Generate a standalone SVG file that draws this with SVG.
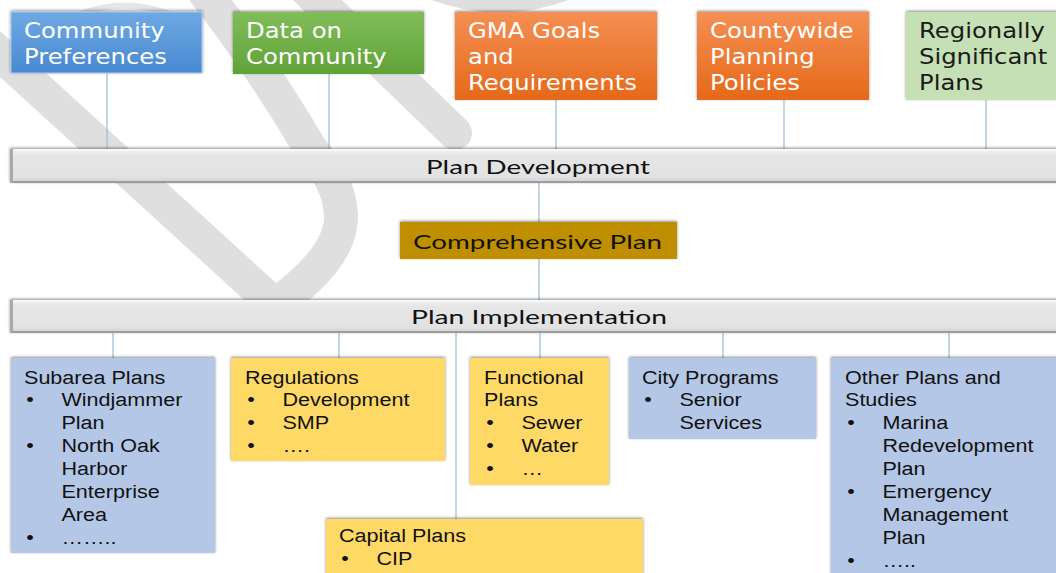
<svg xmlns="http://www.w3.org/2000/svg" width="1056" height="573" viewBox="0 0 1056 573">
  <defs>
    <linearGradient id="gBlue" x1="0" y1="0" x2="0" y2="1">
      <stop offset="0" stop-color="#6fa9e4"/>
      <stop offset="1" stop-color="#4889d1"/>
    </linearGradient>
    <linearGradient id="gGreen" x1="0" y1="0" x2="0" y2="1">
      <stop offset="0" stop-color="#80bd5a"/>
      <stop offset="1" stop-color="#60a338"/>
    </linearGradient>
    <linearGradient id="gOrange" x1="0" y1="0" x2="0" y2="1">
      <stop offset="0" stop-color="#f58f53"/>
      <stop offset="1" stop-color="#e5691a"/>
    </linearGradient>
    <linearGradient id="gBar" x1="0" y1="0" x2="0" y2="1">
      <stop offset="0" stop-color="#f4f4f4"/>
      <stop offset="0.18" stop-color="#e6e6e6"/>
      <stop offset="0.82" stop-color="#e2e2e2"/>
      <stop offset="1" stop-color="#cfcfcf"/>
    </linearGradient>
    <filter id="shadow" x="-10%" y="-30%" width="120%" height="160%">
      <feDropShadow dx="0" dy="-1" stdDeviation="1.6" flood-color="#000" flood-opacity="0.45"/>
    </filter>
  </defs>
  <style>
    .wm { fill: none; stroke: #dfdfdf; stroke-width: 34; stroke-linejoin: round; }
    .link { stroke: #9bb9d9; stroke-width: 1.2; fill: none; }
    .head { font-family: "DejaVu Sans", Verdana, sans-serif; font-size: 21.5px; fill: #ffffff; }
    .head.dark { fill: #1a1a1a; }
    .bar-label { font-family: Lato, "Liberation Sans", sans-serif; font-size: 20px; fill: #111111; }
    .item { font-family: "Liberation Sans", Arial, sans-serif; font-size: 19px; fill: #111111; }
    .bar-fill { fill: url(#gBar); }
    .bar-top { stroke: #fafafa; stroke-width: 1.5; }
    .bar-bottom { stroke: #9c9c9c; stroke-width: 2; }
    .bar-side { stroke: #a9a9a9; stroke-width: 3; }
  </style>

  <rect width="1056" height="573" fill="#ffffff"/>

  <!-- light grey background marks -->
  <g id="watermark">
    <path class="wm" d="M -70,-10 L 275,305 C 310,280 342,250 341,215 C 340,190 328,170 310,148 Q 255,55 195,-20"/>
    <path class="wm" d="M 305,-12 L 455,133" stroke-linecap="round"/>
    <path class="wm" d="M 425,-16 Q 500,16 575,-16" style="stroke-width:25"/>
    <path d="M 78,15 Q 125,-4 172,15" fill="none" stroke="#e6e6e6" stroke-width="6"/>
  </g>

  <!-- connectors -->
  <g id="connectors">
    <line class="link" x1="107" y1="73" x2="107" y2="149"/>
    <line class="link" x1="329" y1="74" x2="329" y2="149"/>
    <line class="link" x1="556" y1="100" x2="556" y2="149"/>
    <line class="link" x1="784" y1="100" x2="784" y2="149"/>
    <line class="link" x1="986" y1="100" x2="986" y2="149"/>
    <line class="link" x1="539" y1="183" x2="539" y2="222"/>
    <line class="link" x1="539" y1="259" x2="539" y2="300"/>
    <line class="link" x1="113" y1="333" x2="113" y2="358"/>
    <line class="link" x1="339" y1="333" x2="339" y2="358"/>
    <line class="link" x1="456" y1="333" x2="456" y2="519"/>
    <line class="link" x1="540" y1="333" x2="540" y2="358"/>
    <line class="link" x1="723" y1="333" x2="723" y2="358"/>
    <line class="link" x1="949" y1="333" x2="949" y2="358"/>
  </g>

  <!-- input boxes -->
  <g id="community-preferences">
    <rect x="11" y="12" width="191" height="61" fill="url(#gBlue)" stroke="#a8c8ec" stroke-width="1" filter="url(#shadow)"/>
    <text class="head" transform="translate(24 38) scale(1.13 1)"><tspan x="0" y="0">Community</tspan><tspan x="0" y="26">Preferences</tspan></text>
  </g>
  <g id="data-on-community">
    <rect x="233" y="12" width="191" height="62" fill="url(#gGreen)" filter="url(#shadow)"/>
    <text class="head" transform="translate(246 38) scale(1.13 1)"><tspan x="0" y="0">Data on</tspan><tspan x="0" y="26">Community</tspan></text>
  </g>
  <g id="gma-goals">
    <rect x="455" y="12" width="202" height="88" fill="url(#gOrange)" filter="url(#shadow)"/>
    <text class="head" transform="translate(468 38) scale(1.13 1)"><tspan x="0" y="0">GMA Goals</tspan><tspan x="0" y="26">and</tspan><tspan x="0" y="52">Requirements</tspan></text>
  </g>
  <g id="countywide-policies">
    <rect x="697" y="12" width="172" height="88" fill="url(#gOrange)" filter="url(#shadow)"/>
    <text class="head" transform="translate(710 38) scale(1.13 1)"><tspan x="0" y="0">Countywide</tspan><tspan x="0" y="26">Planning</tspan><tspan x="0" y="52">Policies</tspan></text>
  </g>
  <g id="regional-plans">
    <rect x="906" y="12" width="156" height="88" fill="#c5e0b4" filter="url(#shadow)"/>
    <text class="head dark" transform="translate(919 38) scale(1.13 1)"><tspan x="0" y="0">Regionally</tspan><tspan x="0" y="26">Significant</tspan><tspan x="0" y="52">Plans</tspan></text>
  </g>

  <!-- plan development bar -->
  <g id="plan-development">
    <rect class="bar-fill" x="10" y="149" width="1052" height="34" filter="url(#shadow)"/>
    <line class="bar-top" x1="12" y1="150" x2="1056" y2="150"/>
    <line class="bar-bottom" x1="10" y1="182" x2="1056" y2="182"/>
    <line class="bar-side" x1="11.5" y1="149" x2="11.5" y2="183"/>
    <text class="bar-label" x="426" y="173.5" textLength="224" lengthAdjust="spacingAndGlyphs">Plan Development</text>
  </g>

  <!-- comprehensive plan -->
  <g id="comprehensive-plan">
    <rect x="400" y="222" width="277" height="37" fill="#bf8f00" filter="url(#shadow)"/>
    <text class="bar-label" x="413" y="249" textLength="249" lengthAdjust="spacingAndGlyphs">Comprehensive Plan</text>
  </g>

  <!-- plan implementation bar -->
  <g id="plan-implementation">
    <rect class="bar-fill" x="10" y="300" width="1052" height="33" filter="url(#shadow)"/>
    <line class="bar-top" x1="12" y1="301" x2="1056" y2="301"/>
    <line class="bar-bottom" x1="10" y1="332" x2="1056" y2="332"/>
    <line class="bar-side" x1="11.5" y1="300" x2="11.5" y2="333"/>
    <text class="bar-label" x="411" y="323.5" textLength="256" lengthAdjust="spacingAndGlyphs">Plan Implementation</text>
  </g>

  <!-- implementation boxes -->
  <g id="subarea-plans">
    <rect x="11" y="358" width="204" height="195" fill="#b4c7e7" filter="url(#shadow)"/>
    <text class="item" transform="translate(24 383.5) scale(1.135 1)">
      <tspan x="0" y="0">Subarea Plans</tspan>
      <tspan x="2" y="23">•</tspan><tspan x="33" y="23">Windjammer</tspan>
      <tspan x="33" y="46">Plan</tspan>
      <tspan x="2" y="69">•</tspan><tspan x="33" y="69">North Oak</tspan>
      <tspan x="33" y="92">Harbor</tspan>
      <tspan x="33" y="115">Enterprise</tspan>
      <tspan x="33" y="138">Area</tspan>
      <tspan x="2" y="161">•</tspan><tspan x="33" y="161">……..</tspan>
    </text>
  </g>
  <g id="regulations">
    <rect x="231" y="358" width="214" height="103" fill="#ffd966" filter="url(#shadow)"/>
    <text class="item" transform="translate(245 383.5) scale(1.135 1)">
      <tspan x="0" y="0">Regulations</tspan>
      <tspan x="2" y="23">•</tspan><tspan x="33" y="23">Development</tspan>
      <tspan x="2" y="46">•</tspan><tspan x="33" y="46">SMP</tspan>
      <tspan x="2" y="69">•</tspan><tspan x="33" y="69">….</tspan>
    </text>
  </g>
  <g id="capital-plans">
    <rect x="326" y="519" width="317" height="60" fill="#ffd966" filter="url(#shadow)"/>
    <text class="item" transform="translate(339 542) scale(1.135 1)">
      <tspan x="0" y="0">Capital Plans</tspan>
      <tspan x="2" y="23">•</tspan><tspan x="33" y="23">CIP</tspan>
    </text>
  </g>
  <g id="functional-plans">
    <rect x="470" y="358" width="139" height="127" fill="#ffd966" filter="url(#shadow)"/>
    <text class="item" transform="translate(484 383.5) scale(1.135 1)">
      <tspan x="0" y="0">Functional</tspan>
      <tspan x="0" y="23">Plans</tspan>
      <tspan x="2" y="46">•</tspan><tspan x="33" y="46">Sewer</tspan>
      <tspan x="2" y="69">•</tspan><tspan x="33" y="69">Water</tspan>
      <tspan x="2" y="92">•</tspan><tspan x="33" y="92">…</tspan>
    </text>
  </g>
  <g id="city-programs">
    <rect x="629" y="358" width="187" height="81" fill="#b4c7e7" filter="url(#shadow)"/>
    <text class="item" transform="translate(642 383.5) scale(1.135 1)">
      <tspan x="0" y="0">City Programs</tspan>
      <tspan x="2" y="23">•</tspan><tspan x="33" y="23">Senior</tspan>
      <tspan x="33" y="46">Services</tspan>
    </text>
  </g>
  <g id="other-plans">
    <rect x="831" y="358" width="231" height="221" fill="#b4c7e7" filter="url(#shadow)"/>
    <text class="item" transform="translate(845 383.5) scale(1.135 1)">
      <tspan x="0" y="0">Other Plans and</tspan>
      <tspan x="0" y="23">Studies</tspan>
      <tspan x="2" y="46">•</tspan><tspan x="33" y="46">Marina</tspan>
      <tspan x="33" y="69">Redevelopment</tspan>
      <tspan x="33" y="92">Plan</tspan>
      <tspan x="2" y="115">•</tspan><tspan x="33" y="115">Emergency</tspan>
      <tspan x="33" y="138">Management</tspan>
      <tspan x="33" y="161">Plan</tspan>
      <tspan x="2" y="184">•</tspan><tspan x="33" y="184">…..</tspan>
    </text>
  </g>
</svg>
